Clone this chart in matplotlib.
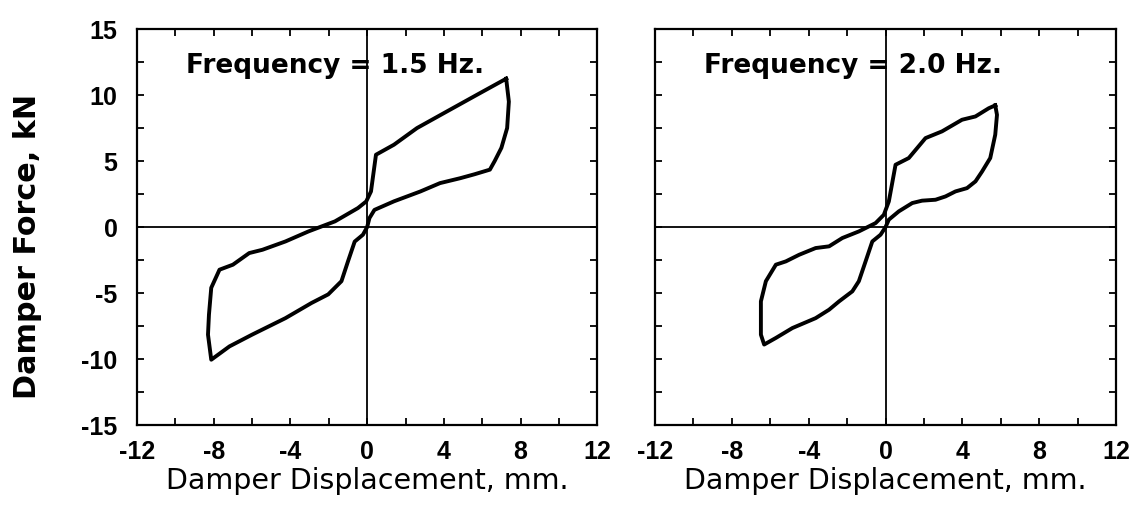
import matplotlib
matplotlib.use("Agg")
import matplotlib.pyplot as plt
from matplotlib.ticker import MultipleLocator

plt.rcParams['font.family'] = ['Liberation Sans', 'DejaVu Sans']
plt.rcParams['axes.unicode_minus'] = False

# 1.5 Hz loop
disp_15 = [7.25, 7.39, 7.3, 7.0, 6.65, 6.4, 5.6, 4.85, 3.8, 2.78, 1.4, 0.38, 0.12,
           0.0, -0.22, -0.65, -1.0, -1.34, -2.03, -2.9, -4.26, -6.0, -7.18, -8.13,
           -8.3, -8.25, -8.13, -7.7, -7.0, -6.15, -5.46, -4.26, -3.06, -1.68, -0.48,
           -0.05, 0.2, 0.46, 1.4, 2.6, 4.16, 5.7, 7.25]
force_15 = [11.24, 9.5, 7.5, 6.0, 5.0, 4.35, 4.0, 3.7, 3.33, 2.7, 1.95, 1.3, 0.68,
            0.0, -0.58, -1.1, -2.6, -4.1, -5.1, -5.75, -6.9, -8.15, -9.04, -10.05,
            -8.15, -6.64, -4.6, -3.23, -2.85, -1.97, -1.72, -1.09, -0.33, 0.43, 1.44,
            1.94, 2.7, 5.48, 6.24, 7.5, 8.76, 10.0, 11.24]

# 2.0 Hz loop
disp_20 = [5.71, 5.8, 5.71, 5.45, 5.02, 4.68, 4.24, 3.64, 3.12, 2.6, 1.9, 1.39, 0.69,
           0.17, 0.0, -0.26, -0.69, -1.04, -1.39, -1.73, -2.42, -2.94, -3.64, -4.85,
           -5.71, -6.32, -6.49, -6.49, -6.23, -5.71, -5.19, -4.5, -3.64, -2.94, -2.25,
           -1.39, -0.52, -0.09, 0.17, 0.52, 1.21, 2.08, 2.94, 3.98, 4.68, 5.37, 5.71]
force_20 = [9.22, 8.5, 7.0, 5.23, 4.2, 3.46, 2.95, 2.7, 2.32, 2.07, 2.0, 1.82, 1.19,
            0.56, 0.0, -0.58, -1.09, -2.6, -4.1, -4.87, -5.63, -6.26, -6.9, -7.65,
            -8.4, -8.9, -8.15, -5.63, -4.1, -2.85, -2.6, -2.1, -1.59, -1.46, -0.83,
            -0.33, 0.3, 0.93, 1.94, 4.72, 5.23, 6.74, 7.25, 8.13, 8.38, 9.0, 9.22]

panels = [("Frequency = 1.5 Hz.", disp_15, force_15),
          ("Frequency = 2.0 Hz.", disp_20, force_20)]

fig = plt.figure(figsize=(11.42, 5.19), dpi=100)
ax1 = fig.add_axes([0.120, 0.181, 0.403, 0.763])
ax2 = fig.add_axes([0.5736, 0.181, 0.4037, 0.763])

for ax, (title, xs, ys) in zip([ax1, ax2], panels):
    ax.plot(xs, ys, color='black', lw=2.8, solid_joinstyle='round')
    ax.axhline(0, color='black', lw=1.3)
    ax.axvline(0, color='black', lw=1.3)
    ax.set_xlim(-12, 12)
    ax.set_ylim(-15, 15)
    ax.xaxis.set_major_locator(MultipleLocator(4))
    ax.xaxis.set_minor_locator(MultipleLocator(2))
    ax.yaxis.set_major_locator(MultipleLocator(5))
    ax.yaxis.set_minor_locator(MultipleLocator(2.5))
    ax.tick_params(which='both', direction='in', top=True, right=True,
                   length=5, width=1.3, labelsize=18)
    ax.tick_params(axis='x', pad=11)
    ax.tick_params(axis='y', pad=14)
    for lab in ax.get_xticklabels() + ax.get_yticklabels():
        lab.set_fontweight('bold')
    for sp in ax.spines.values():
        sp.set_linewidth(1.6)
    ax.text(-9.45, 12.2, title, fontsize=19, fontweight='bold',
            family='DejaVu Sans', va='center', ha='left')
    ax.set_xlabel("Damper Displacement, mm.", fontsize=20.5,
                  family='DejaVu Sans', labelpad=2)

ax2.tick_params(labelleft=False)
ax1.set_ylabel("Damper Force, kN", fontsize=21.8, fontweight='bold',
               family='DejaVu Sans', labelpad=28, y=0.45)

fig.savefig("out.png", dpi=100)
